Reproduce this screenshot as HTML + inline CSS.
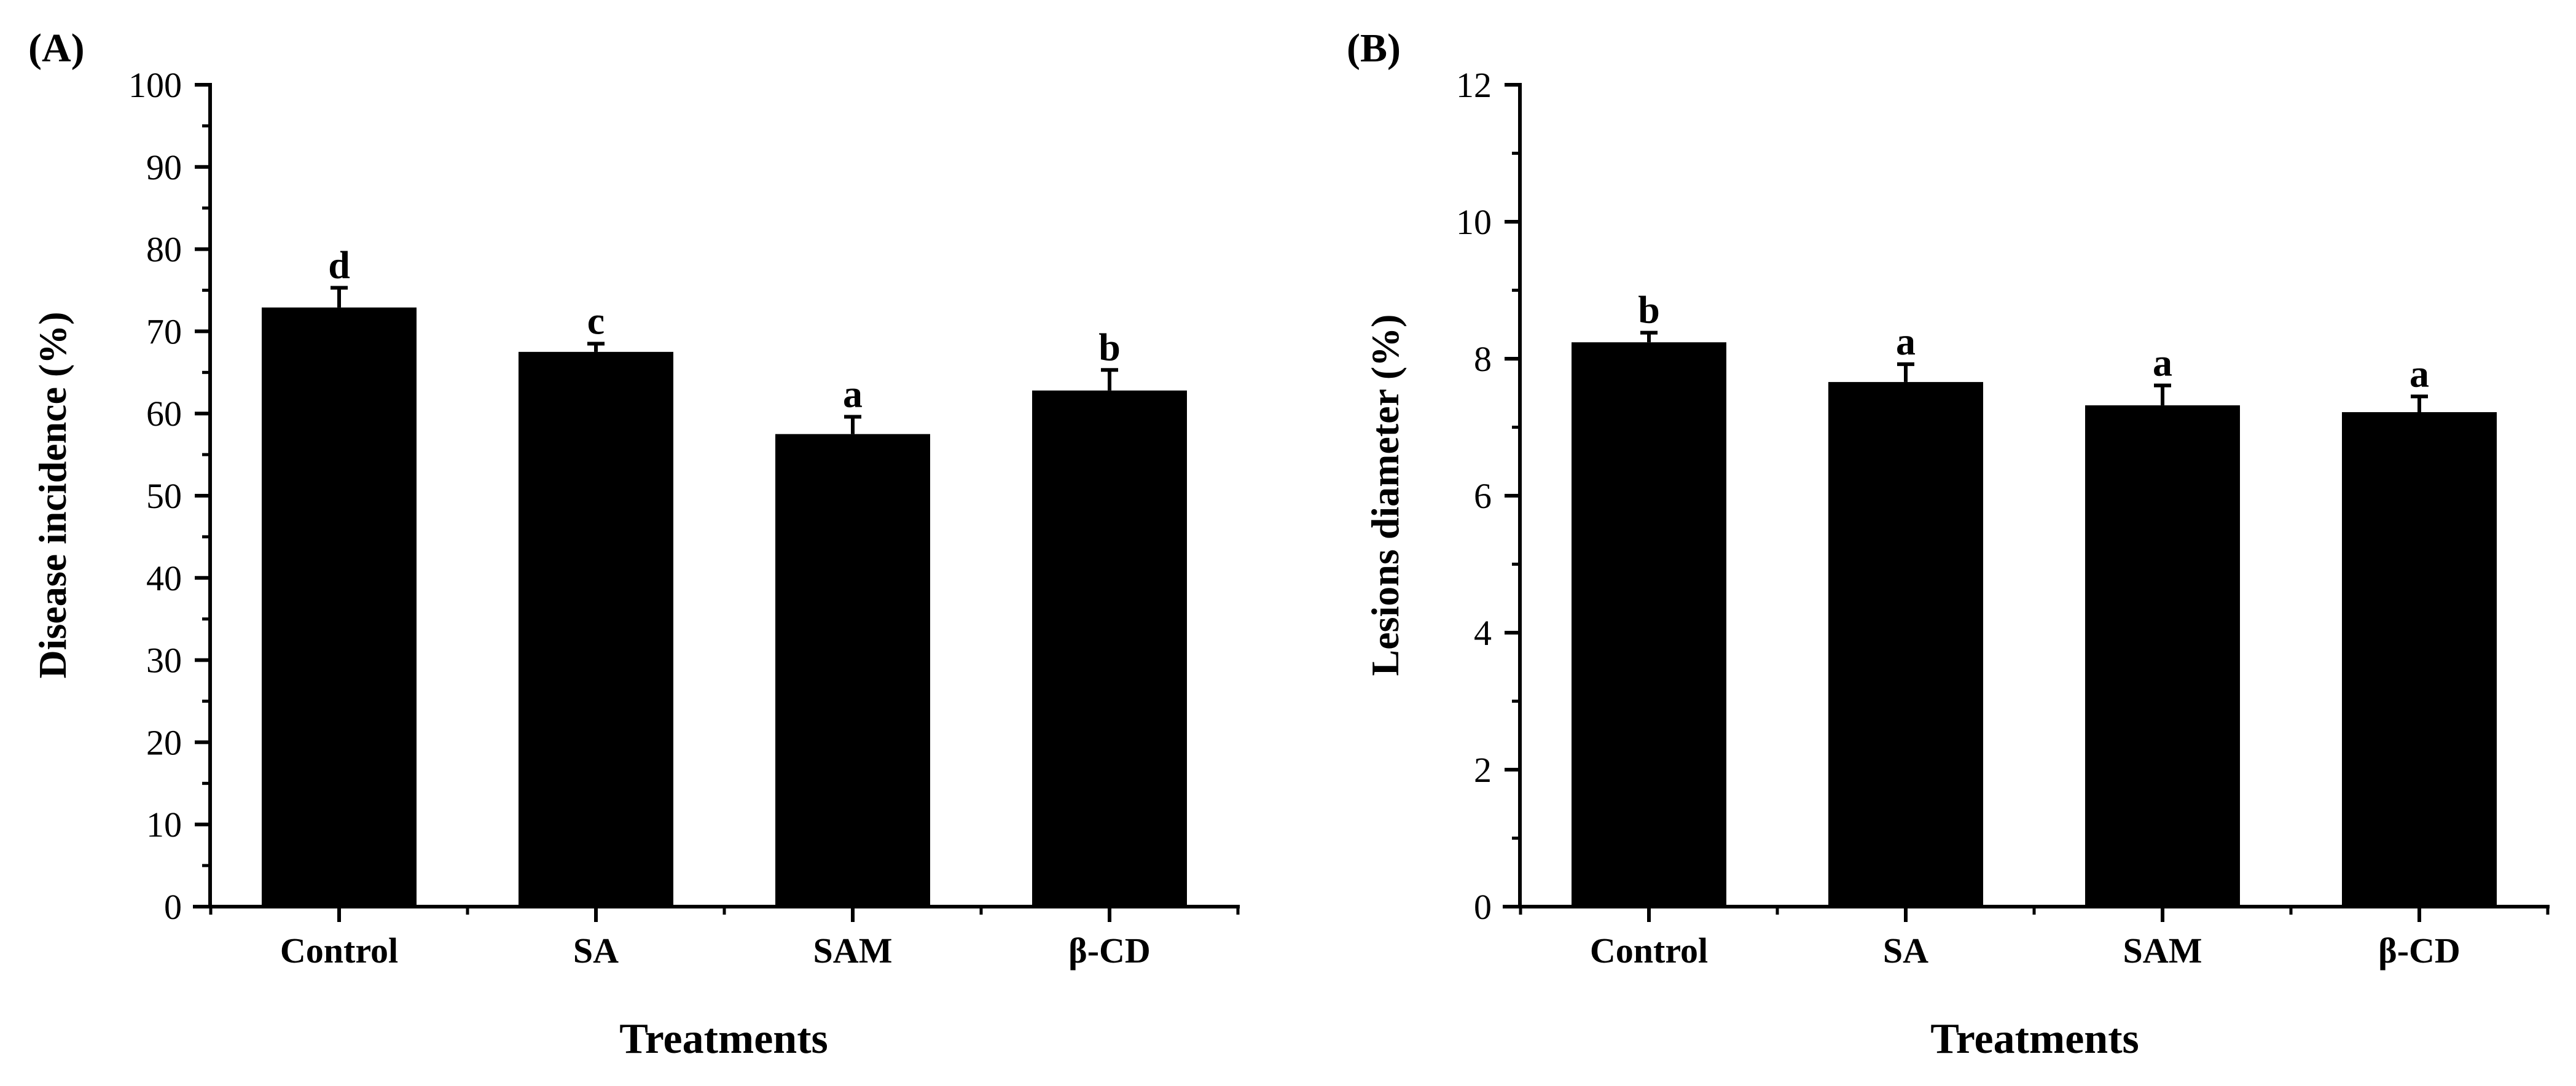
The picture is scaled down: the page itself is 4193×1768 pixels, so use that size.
<!DOCTYPE html>
<html><head><meta charset="utf-8"><style>
html,body{margin:0;padding:0;background:#fff;}
svg{display:block;}
text{font-family:"Liberation Serif",serif;fill:#000;}
</style></head><body>
<svg id="fig" width="4193" height="1768" viewBox="0 0 4193 1768" xmlns="http://www.w3.org/2000/svg"></svg>
<script>
const categories = ["Control","SA","SAM","β-CD"];
const incidenceValues = [72.9, 67.5, 57.5, 62.8];
const incidenceErrors = [2.4, 1.0, 2.1, 2.5];
const incidenceLetters = ["d","c","a","b"];
const incidenceTicks = [0,10,20,30,40,50,60,70,80,90,100];
const diameterValues = [8.24, 7.66, 7.32, 7.22];
const diameterErrors = [0.14, 0.26, 0.29, 0.23];
const diameterLetters = ["b","a","a","a"];
const diameterTicks = [0,2,4,6,8,10,12];

const NS="http://www.w3.org/2000/svg";
const svg=document.getElementById('fig');
function mk(tag,attrs,parent){const e=document.createElementNS(NS,tag);for(const k in attrs)e.setAttribute(k,attrs[k]);(parent||svg).appendChild(e);return e;}

function panel(cfg){
  const g=mk('g',{});
  
  
  const x0=cfg.axisX, yTop=138, yZero=1476, step=418, first=cfg.axisX+210;
  const ymax=cfg.ticks[cfg.ticks.length-1];
  const y=v=>yZero-(v/ymax)*(yZero-yTop);
  const xc=i=>first+i*step;
  const xEnd=first+3*step+209;
  // bars
  cfg.values.forEach((v,i)=>{
    const r=mk('rect',{x:xc(i)-126,y:y(v),width:252,height:yZero-y(v),fill:'#000'},g);
    
    
    const top=y(v+cfg.errors[i]);
    const eb=mk('path',{d:`M${xc(i)} ${y(v)} V${top} M${xc(i)-14} ${top} H${xc(i)+14}`,stroke:'#000','stroke-width':6,fill:'none'},g);
    
    
    const t=mk('text',{x:xc(i),y:top-16,'font-size':64,'font-weight':'bold','text-anchor':'middle'},g);
    t.textContent=cfg.letters[i];
    
    
    const cl=mk('text',{x:xc(i),y:1567,'font-size':58,'font-weight':'bold','text-anchor':'middle'},g);
    cl.textContent=categories[i];
    
    
  });
  // axes
  const ax=mk('path',{d:`M${x0} ${yTop} V${yZero} M${x0-25} ${yZero} H${xEnd}`,stroke:'#000','stroke-width':6,fill:'none','stroke-linecap':'square'},g);
  
  
  // y ticks
  const tstep=cfg.ticks[1]-cfg.ticks[0];
  cfg.ticks.forEach((tv,k)=>{
    mk('path',{d:`M${x0-25} ${y(tv)} H${x0}`,stroke:'#000','stroke-width':6},g);
    if(k<cfg.ticks.length-1) mk('path',{d:`M${x0-13} ${y(tv+tstep/2)} H${x0}`,stroke:'#000','stroke-width':5},g);
    const tl=mk('text',{x:x0-46,y:y(tv)+20,'font-size':58,'text-anchor':'end'},g);
    tl.textContent=tv;
    
    
  });
  // x ticks
  for(let i=0;i<4;i++){
    mk('path',{d:`M${xc(i)} ${yZero} V${yZero+25}`,stroke:'#000','stroke-width':6},g);
  }
  for(let i=0;i<=4;i++){
    mk('path',{d:`M${first-209+i*step} ${yZero} V${yZero+13}`,stroke:'#000','stroke-width':5},g);
  }
  const yt=mk('text',{x:0,y:0,'font-size':64,'font-weight':'bold','text-anchor':'middle',transform:`translate(${cfg.titleX+22},806) rotate(-90)`},g);
  yt.textContent=cfg.yTitle;
  
  
  const xt=mk('text',{x:cfg.xTitleX,y:1714,'font-size':70,'font-weight':'bold','text-anchor':'middle'},g);
  xt.textContent='Treatments';
  
  
  const pl=mk('text',{x:cfg.labelX,y:100,'font-size':66,'font-weight':'bold'},g);
  pl.textContent=cfg.label;
  
  
}
panel({id:'incidence',axisX:342,values:incidenceValues,errors:incidenceErrors,letters:incidenceLetters,ticks:incidenceTicks,yTitle:'Disease incidence (%)',titleX:85,xTitleX:1178,labelX:46,label:'(A)'});
panel({id:'diameter',axisX:2474,values:diameterValues,errors:diameterErrors,letters:diameterLetters,ticks:diameterTicks,yTitle:'Lesions diameter (%)',titleX:2254,xTitleX:3312,labelX:2192,label:'(B)'});
</script>
</body></html>
